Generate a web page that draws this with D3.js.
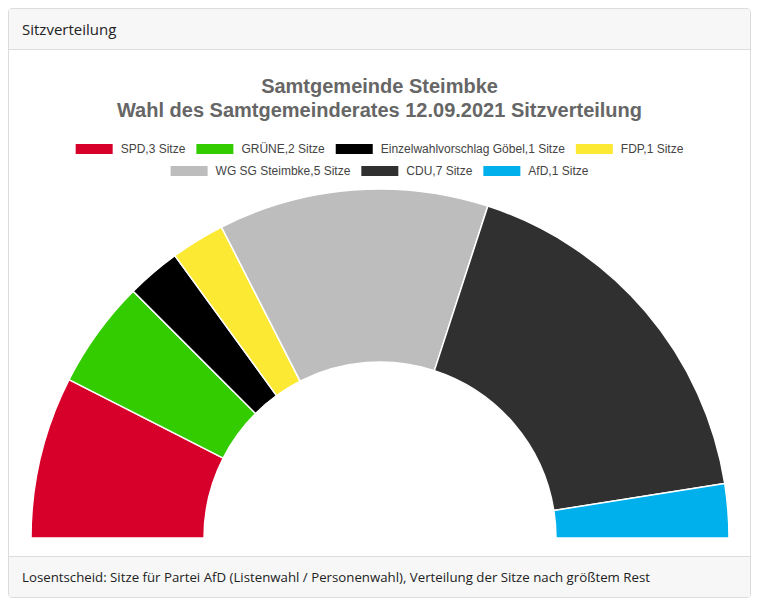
<!DOCTYPE html>
<html>
<head>
<meta charset="utf-8">
<title>Sitzverteilung</title>
<style>
  html, body { margin: 0; padding: 0; background: #fff; }
  .card {
    position: absolute; left: 8px; top: 8px; width: 741px; height: 588px;
    border: 1px solid #dcdcdc; border-radius: 4px; overflow: hidden;
    font-family: "Open Sans", "Noto Sans", sans-serif; color: #222;
  }
  .card-header {
    height: 40px; line-height: 40px; padding-left: 13px; font-size: 15px;
    background: #f7f7f7; border-bottom: 1px solid #dcdcdc;
  }
  .card-body { height: 506px; }
  .card-footer {
    height: 41px; line-height: 41px; padding-left: 13px; font-size: 13.25px;
    background: #f7f7f7; border-top: 1px solid #dcdcdc;
  }
  svg { display: block; }
</style>
</head>
<body>
<div class="card">
  <div class="card-header">Sitzverteilung</div>
  <div class="card-body"><svg id="chart" width="741" height="506"></svg></div>
  <div class="card-footer">Losentscheid: Sitze für Partei AfD (Listenwahl / Personenwahl), Verteilung der Sitze nach größtem Rest</div>
</div>

<script src="https://cdnjs.cloudflare.com/ajax/libs/d3/7.8.5/d3.min.js"></script>
<script>
  // seat distribution
  let parties = ["SPD", "GRÜNE", "Einzelwahlvorschlag Göbel", "FDP", "WG SG Steimbke", "CDU", "AfD"];
  let seats = [3, 2, 1, 1, 5, 7, 1];
  let colors = ["#d7002a", "#33cc00", "#000000", "#fce934", "#bdbdbd", "#303030", "#00b0ec"];
  let titleLines = ["Samtgemeinde Steimbke", "Wahl des Samtgemeinderates 12.09.2021 Sitzverteilung"];

  let data = parties.map((p, i) => ({party: p, seats: seats[i], color: colors[i]}));

  let svg = d3.select("#chart");
  let width = 741;
  // chart coordinates are relative to the card body (offset 9, 50 on the page)
  let cx = 371, cy = 488;
  let outerR = 349, innerR = 176;

  // title
  svg.append("g")
    .selectAll("text")
    .data(titleLines)
    .join("text")
    .attr("x", width / 2)
    .attr("y", (d, i) => 43 + i * 24)
    .attr("text-anchor", "middle")
    .style("font-family", "'Liberation Sans', Arial, sans-serif")
    .style("font-size", "20px")
    .style("font-weight", "bold")
    .style("fill", "#666666")
    .text(d => d);

  // legend with wrapping rows
  let legend = svg.append("g");
  let symW = 37, symH = 10, gapText = 8, gapItem = 11, maxRow = 620;
  let items = legend.selectAll("g")
    .data(data)
    .join("g");
  items.append("rect")
    .attr("width", symW)
    .attr("height", symH)
    .attr("fill", d => d.color);
  items.append("text")
    .attr("x", symW + gapText)
    .attr("y", symH / 2 + 4)
    .style("font-family", "'Liberation Sans', Arial, sans-serif")
    .style("font-size", "12px")
    .style("fill", "#444")
    .text(d => d.party + "," + d.seats + " Sitze");

  let rows = [[]], rowW = [0];
  items.each(function(d) {
    let w = symW + gapText + this.querySelector("text").getComputedTextLength();
    let r = rows.length - 1;
    let add = rows[r].length ? gapItem + w : w;
    if (rowW[r] + add > maxRow && rows[r].length) {
      rows.push([]); rowW.push(0); r++; add = w;
    }
    rows[r].push({node: this, w: w});
    rowW[r] += add;
  });
  rows.forEach((row, r) => {
    let x = (width - rowW[r]) / 2;
    row.forEach(it => {
      d3.select(it.node).attr("transform", "translate(" + [x, 94 + r * 22] + ")");
      x += it.w + gapItem;
    });
  });

  // semicircle
  let pie = d3.pie()
    .sort(null)
    .value(d => d.seats)
    .startAngle(-Math.PI / 2)
    .endAngle(Math.PI / 2);
  let arc = d3.arc()
    .innerRadius(innerR)
    .outerRadius(outerR);

  svg.append("g")
    .attr("transform", "translate(" + [cx, cy] + ")")
    .selectAll("path")
    .data(pie(data))
    .join("path")
    .attr("d", arc)
    .attr("fill", d => d.data.color)
    .attr("stroke", "#fff")
    .attr("stroke-width", 1.5)
    .attr("stroke-linejoin", "round");
</script>
</body>
</html>
